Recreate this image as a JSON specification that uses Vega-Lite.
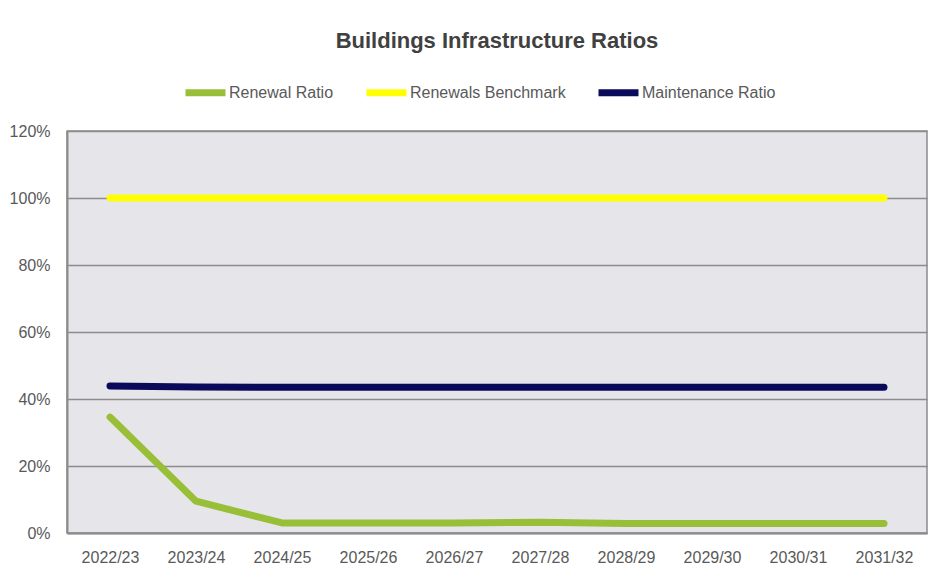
{
  "$schema": "https://vega.github.io/schema/vega-lite/v6.json",
  "width": 860,
  "height": 402,
  "autosize": {"type": "none"},
  "padding": {"left": 67, "top": 131, "right": 21, "bottom": 33},
  "background": "white",
  "title": {
    "text": "Buildings  Infrastructure Ratios",
    "font": "Liberation Sans",
    "fontSize": 22,
    "fontWeight": "bold",
    "color": "#404040",
    "anchor": "middle",
    "offset": 16
  },
  "data": {
    "values": [
      {"year": "2022/23", "series": "Renewal Ratio", "value": 0.346},
      {"year": "2023/24", "series": "Renewal Ratio", "value": 0.095},
      {"year": "2024/25", "series": "Renewal Ratio", "value": 0.03},
      {"year": "2025/26", "series": "Renewal Ratio", "value": 0.03},
      {"year": "2026/27", "series": "Renewal Ratio", "value": 0.03},
      {"year": "2027/28", "series": "Renewal Ratio", "value": 0.032},
      {"year": "2028/29", "series": "Renewal Ratio", "value": 0.028},
      {"year": "2029/30", "series": "Renewal Ratio", "value": 0.028},
      {"year": "2030/31", "series": "Renewal Ratio", "value": 0.028},
      {"year": "2031/32", "series": "Renewal Ratio", "value": 0.028},
      {"year": "2022/23", "series": "Renewals Benchmark", "value": 1.0},
      {"year": "2023/24", "series": "Renewals Benchmark", "value": 1.0},
      {"year": "2024/25", "series": "Renewals Benchmark", "value": 1.0},
      {"year": "2025/26", "series": "Renewals Benchmark", "value": 1.0},
      {"year": "2026/27", "series": "Renewals Benchmark", "value": 1.0},
      {"year": "2027/28", "series": "Renewals Benchmark", "value": 1.0},
      {"year": "2028/29", "series": "Renewals Benchmark", "value": 1.0},
      {"year": "2029/30", "series": "Renewals Benchmark", "value": 1.0},
      {"year": "2030/31", "series": "Renewals Benchmark", "value": 1.0},
      {"year": "2031/32", "series": "Renewals Benchmark", "value": 1.0},
      {"year": "2022/23", "series": "Maintenance Ratio", "value": 0.439},
      {"year": "2023/24", "series": "Maintenance Ratio", "value": 0.436},
      {"year": "2024/25", "series": "Maintenance Ratio", "value": 0.435},
      {"year": "2025/26", "series": "Maintenance Ratio", "value": 0.435},
      {"year": "2026/27", "series": "Maintenance Ratio", "value": 0.435},
      {"year": "2027/28", "series": "Maintenance Ratio", "value": 0.435},
      {"year": "2028/29", "series": "Maintenance Ratio", "value": 0.435},
      {"year": "2029/30", "series": "Maintenance Ratio", "value": 0.435},
      {"year": "2030/31", "series": "Maintenance Ratio", "value": 0.435},
      {"year": "2031/32", "series": "Maintenance Ratio", "value": 0.435}
    ]
  },
  "mark": {"type": "line", "strokeWidth": 7, "strokeCap": "round", "strokeJoin": "round"},
  "encoding": {
    "x": {
      "field": "year",
      "type": "ordinal",
      "sort": null,
      "scale": {"type": "point", "padding": 0.5},
      "axis": {
        "title": null,
        "labelAngle": 0,
        "labelFont": "Liberation Sans",
        "labelFontSize": 16,
        "labelColor": "#595959",
        "labelPadding": 16,
        "ticks": false,
        "domainColor": "#8c8c8c",
        "domainWidth": 2,
        "grid": false
      }
    },
    "y": {
      "field": "value",
      "type": "quantitative",
      "scale": {"domain": [0, 1.2], "nice": false},
      "axis": {
        "title": null,
        "format": ".0%",
        "values": [0, 0.2, 0.4, 0.6, 0.8, 1.0, 1.2],
        "labelFont": "Liberation Sans",
        "labelFontSize": 16,
        "labelColor": "#595959",
        "labelPadding": 17,
        "ticks": false,
        "domainColor": "#8c8c8c",
        "domainWidth": 2,
        "grid": true,
        "gridColor": "#8c8c8c",
        "gridWidth": 1.5
      }
    },
    "color": {
      "field": "series",
      "type": "nominal",
      "sort": ["Renewal Ratio", "Renewals Benchmark", "Maintenance Ratio"],
      "scale": {
        "domain": ["Renewal Ratio", "Renewals Benchmark", "Maintenance Ratio"],
        "range": ["#99bf38", "#ffff00", "#0a0a5a"]
      },
      "legend": {
        "title": null,
        "orient": "none",
        "legendX": 115,
        "legendY": -62,
        "direction": "horizontal",
        "symbolType": "stroke",
        "symbolSize": 1600,
        "symbolStrokeWidth": 7,
        "labelFont": "Liberation Sans",
        "labelFontSize": 16,
        "labelColor": "#595959",
        "labelOffset": 0,
        "columnPadding": 18
      }
    }
  },
  "config": {
    "view": {"fill": "#e6e6ea", "stroke": "#8c8c8c", "strokeWidth": 1.5}
  }
}
